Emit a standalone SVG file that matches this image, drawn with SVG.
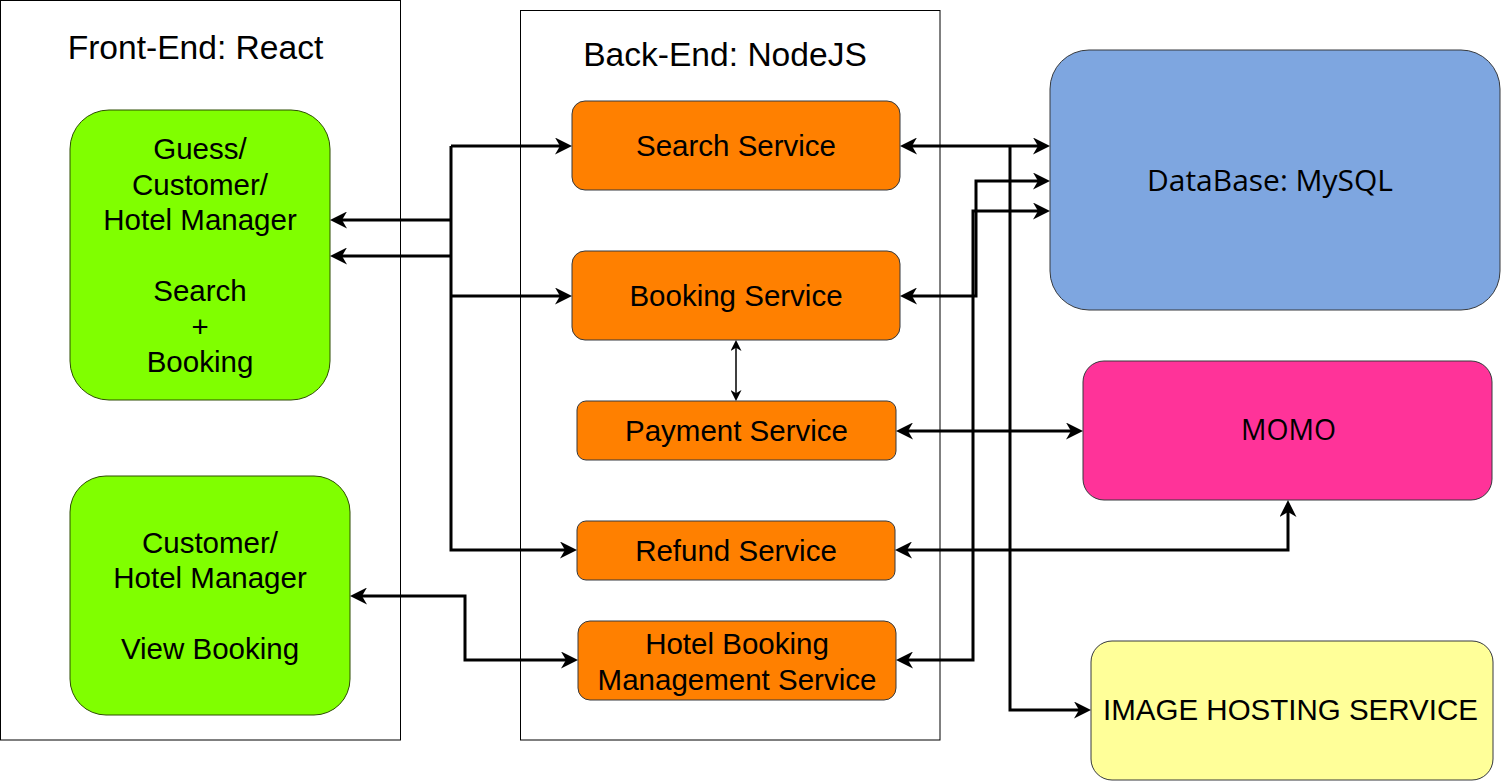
<svg xmlns="http://www.w3.org/2000/svg" width="1501" height="781" viewBox="0 0 1501 781">
<style>
  .t { font-family: "Liberation Sans", Arial, sans-serif; font-size: 29.5px; fill: #000; text-anchor: middle; }
  .title { font-family: "Liberation Sans", Arial, sans-serif; font-size: 33.6px; fill: #000; text-anchor: middle; }
  .seg { font-family: "Open Sans", "Noto Sans", sans-serif; font-size: 29.5px; fill: #000; }
  .cont { fill: #fff; stroke: #000; stroke-width: 1; }
  .green { fill: #80FF00; stroke: #2D4D00; stroke-width: 1; }
  .svc { fill: #FF8000; stroke: #36393D; stroke-width: 1; }
  .db { fill: #7EA6E0; stroke: #36393D; stroke-width: 1; }
  .momo { fill: #FF3399; stroke: #36393D; stroke-width: 1; }
  .img { fill: #FFFF99; stroke: #36393D; stroke-width: 1; }
  .c { fill: none; stroke: #000; stroke-width: 3; stroke-linejoin: miter; }
  .cs { fill: none; stroke: #000; stroke-width: 1.5; }
</style>
<defs>
  <marker id="arr" viewBox="0 0 17 17" markerWidth="17" markerHeight="17" refX="12" refY="8.5" markerUnits="userSpaceOnUse" orient="auto-start-reverse">
    <path d="M0,0 L17,8.5 L0,17 L5,8.5 Z" fill="#000"/>
  </marker>
  <marker id="arrS" viewBox="0 0 17 17" markerWidth="11" markerHeight="11" refX="12" refY="8.5" markerUnits="userSpaceOnUse" orient="auto-start-reverse">
    <path d="M0,0 L17,8.5 L0,17 L5,8.5 Z" fill="#000"/>
  </marker>
</defs>
<rect width="1501" height="781" fill="#fff"/>

<g id="frontend">
  <rect class="cont" x="0.5" y="0.5" width="400" height="739.5"/>
  <text class="title" x="195.5" y="59">Front-End: React</text>
</g>
<g id="backend">
  <rect class="cont" x="520.5" y="10.5" width="419.5" height="729.5"/>
  <text class="title" x="725" y="66">Back-End: NodeJS</text>
</g>

<g id="fe-search-booking">
  <rect class="green" x="70" y="110" width="260" height="290" rx="39" ry="39"/>
  <text class="t" x="200" y="159">Guess/</text>
  <text class="t" x="200" y="194.5">Customer/</text>
  <text class="t" x="200" y="230">Hotel Manager</text>
  <text class="t" x="200" y="301">Search</text>
  <text class="t" x="200" y="336.5">+</text>
  <text class="t" x="200" y="372">Booking</text>
</g>
<g id="fe-view-booking">
  <rect class="green" x="70" y="476" width="280" height="239" rx="36" ry="36"/>
  <text class="t" x="210" y="552.5">Customer/</text>
  <text class="t" x="210" y="588">Hotel Manager</text>
  <text class="t" x="210" y="659">View Booking</text>
</g>

<g id="search-service">
  <rect class="svc" x="572" y="101" width="328" height="89" rx="13" ry="13"/>
  <text class="t" x="736" y="156">Search Service</text>
</g>
<g id="booking-service">
  <rect class="svc" x="572" y="251" width="328" height="89" rx="13" ry="13"/>
  <text class="t" x="736" y="306">Booking Service</text>
</g>
<g id="payment-service">
  <rect class="svc" x="577" y="401" width="319" height="59" rx="9" ry="9"/>
  <text class="t" x="736.5" y="441">Payment Service</text>
</g>
<g id="refund-service">
  <rect class="svc" x="577" y="521" width="318" height="59" rx="9" ry="9"/>
  <text class="t" x="736" y="561">Refund Service</text>
</g>
<g id="hotel-booking-mgmt">
  <rect class="svc" x="578" y="621" width="318" height="79" rx="12" ry="12"/>
  <text class="t" x="737" y="653.5">Hotel Booking</text>
  <text class="t" x="737" y="689.5">Management Service</text>
</g>

<g id="database">
  <rect class="db" x="1050" y="50" width="450" height="260" rx="39" ry="39"/>
  <text class="seg" x="1147" y="191" textLength="246" lengthAdjust="spacingAndGlyphs">DataBase: MySQL</text>
</g>
<g id="momo">
  <rect class="momo" x="1083" y="361" width="409" height="139" rx="21" ry="21"/>
  <text class="seg" x="1241" y="440" textLength="95" lengthAdjust="spacingAndGlyphs">MOMO</text>
</g>
<g id="image-hosting">
  <rect class="img" x="1091" y="641" width="402" height="139" rx="21" ry="21"/>
  <text class="t" x="1290.5" y="720">IMAGE HOSTING SERVICE</text>
</g>

<g id="connectors">
  <path class="c" d="M451,220 H335" marker-end="url(#arr)"/>
  <path class="c" d="M451,256 H335" marker-end="url(#arr)"/>
  <path class="c" d="M451,146 H567" marker-end="url(#arr)"/>
  <path class="c" d="M451,296 H567" marker-end="url(#arr)"/>
  <path class="c" d="M451,146 V550 H572" marker-end="url(#arr)"/>
  <path class="c" d="M355,596 H465 V660 H573" marker-start="url(#arr)" marker-end="url(#arr)"/>
  <path class="cs" d="M736,343.2 V397.8" marker-start="url(#arrS)" marker-end="url(#arrS)"/>
  <path class="c" d="M905,146 H1045" marker-start="url(#arr)" marker-end="url(#arr)"/>
  <path class="c" d="M1010,146 V710 H1086" marker-end="url(#arr)"/>
  <path class="c" d="M905,296 H976 V181 H1045" marker-start="url(#arr)" marker-end="url(#arr)"/>
  <path class="c" d="M901,660 H973 V211 H1045" marker-start="url(#arr)" marker-end="url(#arr)"/>
  <path class="c" d="M901,431 H1078" marker-start="url(#arr)" marker-end="url(#arr)"/>
  <path class="c" d="M900,550 H1288 V505" marker-start="url(#arr)" marker-end="url(#arr)"/>
</g>
</svg>
